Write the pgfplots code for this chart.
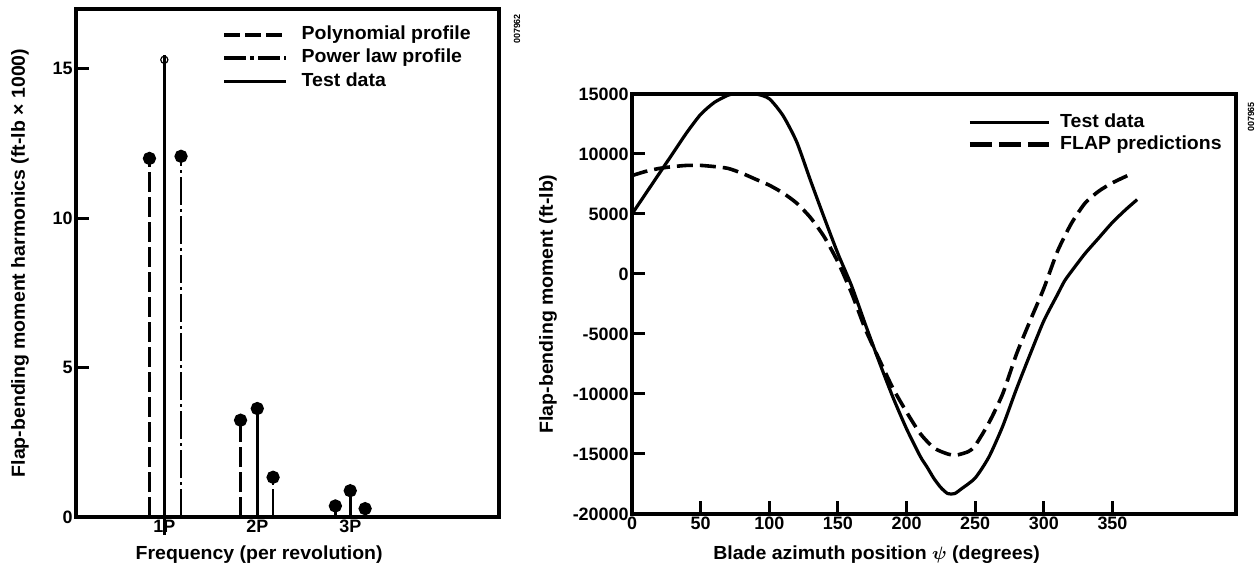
\documentclass[border=0pt]{standalone}
\usepackage{amsmath}
\usepackage{bm}
\usepackage{fontspec}
\setmainfont{Liberation Sans}
\newfontfamily\labfont{Liberation Sans}[FakeStretch=1.03]
\usepackage{pgfplots}
\pgfplotsset{compat=1.18}

\pgfplotsset{
  scan/.style={
    scale only axis,
    clip=false,
    axis line style={line width=1.8bp},
    tick align=inside,
    major tick length=6.5bp,
    every tick/.style={line width=1.5bp, black},
    /pgf/number format/assume math mode=true,
    tick label style={font=\fontsize{9}{10}\selectfont\bfseries, inner sep=1.5bp},
    every axis label/.append style={font=\labfont\fontsize{9.5}{11}\selectfont\bfseries},
    legend style={draw=none, fill=none, inner sep=0pt,
      font=\labfont\fontsize{9.5}{11}\selectfont\bfseries,
      nodes={inner sep=0pt, text height=7bp, text depth=2.2bp}},
    legend cell align=left,
  },
}

\begin{document}
\begin{tikzpicture}
\path[use as bounding box] (0,0) rectangle (629bp,283.5bp);

% left: harmonics
\begin{axis}[scan,
  at={(38bp,25bp)}, anchor=south west,
  width=211.5bp, height=254bp,
  xmin=0.05, xmax=4.6, ymin=0, ymax=17,
  xtick={1,2,3}, xticklabels={1P,2P,3P},
  xtick style={draw=none},
  ytick={0,5,10,15}, ytick pos=left,
  every axis x label/.style={at={(axis description cs:0.433,0)}, anchor=center, yshift=-19bp},
  every axis y label/.style={at={(axis description cs:0,0.5)}, rotate=90, anchor=center, yshift=28bp},
  xlabel={Frequency (per revolution)},
  ylabel={Flap-bending moment harmonics (ft-lb × 1000)},
  legend image code/.code={\draw[#1] (0bp,0bp) -- (31bp,0bp); \path (38bp,0bp);},
  legend style={at={(0.345,0.968)}, anchor=north west, row sep=2.4bp},
]
\addlegendimage{line width=1.7bp, dash pattern=on 8bp off 2.5bp}
\addlegendentry{Polynomial profile}
\addlegendimage{line width=1.7bp, dash pattern=on 11bp off 2bp on 2bp off 2bp}
\addlegendentry{Power law profile}
\addlegendimage{line width=1.7bp}
\addlegendentry{Test data}

\addplot[forget plot, ycomb, line width=1.4bp, dash pattern=on 10bp off 2.5bp,
  mark=*, mark size=2.6bp, mark options={solid}]
  coordinates {(0.84,12.0) (1.82,3.24) (2.84,0.37)};
\addplot[forget plot, ycomb, line width=1.4bp, dash pattern=on 14bp off 2bp on 1.5bp off 2bp,
  mark=*, mark size=2.6bp, mark options={solid}]
  coordinates {(1.18,12.07) (2.17,1.33) (3.16,0.28)};
\addplot[forget plot, ycomb, line width=1.4bp, mark=*, mark size=2.6bp]
  coordinates {(2,3.63) (3,0.88)};
\addplot[forget plot, line width=1.5bp] coordinates {(1,-0.6) (1,15.45)};
\addplot[forget plot, only marks, mark=o, mark size=1.8bp, mark options={line width=0.6bp}]
  coordinates {(1,15.3)};
\end{axis}
\node[rotate=90, font=\fontsize{4.5}{5}\selectfont\bfseries] at (258.5bp,269bp) {007962};

% right: azimuth
\begin{axis}[scan,
  at={(316bp,26.5bp)}, anchor=south west,
  width=302bp, height=210bp,
  xmin=0, xmax=440, ymin=-20000, ymax=15000,
  xtick={0,50,...,350}, xtick pos=bottom,
  ytick={-20000,-15000,...,15000}, ytick pos=left,
  scaled y ticks=false,
  yticklabel style={/pgf/number format/.cd, fixed, 1000 sep={}},
  every axis x label/.style={at={(axis description cs:0.405,0)}, anchor=center, yshift=-20.5bp},
  every axis y label/.style={at={(axis description cs:0,0.5)}, rotate=90, anchor=center, yshift=42bp},
  xlabel={Blade azimuth position $\bm{\psi}$ (degrees)},
  ylabel={Flap-bending moment (ft-lb)},
  legend image code/.code={\draw[#1] (0bp,0bp) -- (39.5bp,0bp); \path (44bp,0bp);},
  legend style={at={(0.555,0.955)}, anchor=north west, row sep=1.8bp},
]
\addlegendimage{line width=1.6bp}
\addlegendentry{Test data}
\addlegendimage{line width=2.3bp, dash pattern=on 11bp off 3.5bp}
\addlegendentry{FLAP predictions}

\addplot[forget plot, line width=1.6bp, smooth, tension=0.4] coordinates {
  (0,5000) (10,6700) (20,8400) (30,10100) (40,11800) (50,13300) (60,14300)
  (70,14900) (75,15000) (90,15000) (100,14600) (110,13200) (120,11000)
  (130,7800) (140,4700) (150,1700) (160,-1000) (170,-4200) (180,-7300)
  (190,-10250) (200,-12900) (210,-15200) (215,-16100) (220,-17050)
  (225,-17800) (230,-18300) (235,-18300) (240,-17900) (250,-17000)
  (260,-15250) (270,-12700) (280,-9600) (290,-6700) (300,-3900)
  (310,-1700) (315,-600) (320,200) (330,1700) (340,3000) (350,4300)
  (360,5400) (368,6200)
};
\addplot[forget plot, line width=1.8bp, dash pattern=on 8bp off 3.5bp, smooth, tension=0.4] coordinates {
  (0,8200) (10,8550) (20,8800) (30,8950) (40,9050) (50,9050) (60,8950)
  (70,8800) (80,8400) (90,7900) (100,7400) (110,6750) (120,5900) (130,4700)
  (140,3100) (150,1000) (160,-1600) (170,-4600) (180,-7100) (190,-9500)
  (200,-11500) (210,-13300) (220,-14500) (230,-15000) (236,-15100)
  (245,-14800) (250,-14300) (260,-12400) (270,-10000) (280,-6700)
  (290,-3900) (300,-1200) (310,1900) (320,4200) (330,5900) (340,6900)
  (350,7600) (361,8200)
};
\end{axis}
\node[rotate=90, font=\fontsize{4.5}{5}\selectfont\bfseries] at (625.5bp,225bp) {007965};
\end{tikzpicture}
\end{document}
